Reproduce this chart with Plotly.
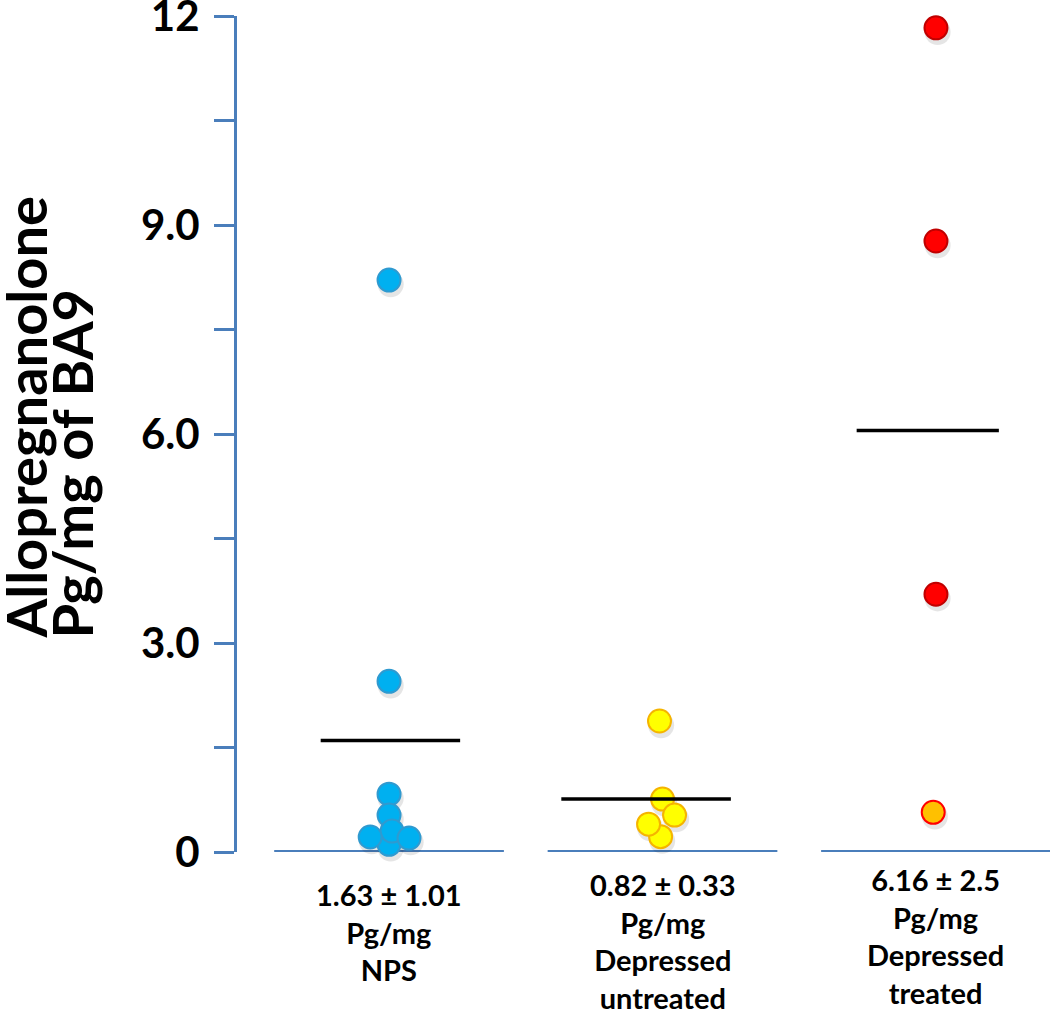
import plotly.graph_objects as go

# ---------------- data ----------------
groups = ["NPS", "Depressed untreated", "Depressed treated"]
group_labels = [
    "1.63 ± 1.01<br>Pg/mg<br>NPS",
    "0.82 ± 0.33<br>Pg/mg<br>Depressed<br>untreated",
    "6.16 ± 2.5<br>Pg/mg<br>Depressed<br>treated",
]
nps_values = [8.21, 2.45, 0.83, 0.53, 0.11, 0.30, 0.215, 0.20]
nps_jitter = [0.0, 0.0, 0.0, 0.0, 0.0, 0.011, -0.069, 0.073]
untreated_values = [1.88, 0.22, 0.76, 0.53, 0.40]
untreated_jitter = [-0.011, -0.007, 0.0, 0.044, -0.051]
treated_values = [11.83, 8.77, 3.70, 0.57]
treated_jitter = [0.0, 0.0, 0.0, -0.01]
mean_values = [1.60, 0.76, 6.05]
y_tick_values = [0, 1.5, 3, 4.5, 6, 7.5, 9, 10.5, 12]
y_tick_labels = ["0", "", "3.0", "", "6.0", "", "9.0", "", "12"]

# ---------------- style ----------------
AXIS_BLUE = "#4A7EBB"
FONT = "Lato"
mean_extent = [(-0.25, 0.26), (-0.37, 0.25), (-0.29, 0.23)]
base_half = 0.42
SHADOW_DY = 0.06   # shadow offset in axis units (~4 px)
SHADOW_DX = 0.006

fig = go.Figure()

# baselines per group
for i in range(len(groups)):
    fig.add_trace(go.Scatter(
        x=[i - base_half, i + base_half], y=[0, 0], mode="lines",
        line=dict(color=AXIS_BLUE, width=4), hoverinfo="skip", showlegend=False,
        cliponaxis=False))

all_sets = [(0, nps_values, nps_jitter), (1, untreated_values, untreated_jitter),
            (2, treated_values, treated_jitter)]

# soft drop shadows
for i, vals, jit in all_sets:
    fig.add_trace(go.Scatter(
        x=[i + j + SHADOW_DX for j in jit], y=[v - SHADOW_DY for v in vals], mode="markers",
        marker=dict(size=26, color="rgba(0,0,0,0.10)", line=dict(width=0)),
        hoverinfo="skip", showlegend=False, cliponaxis=False))

def pts(i, vals, jit, fill, edge):
    fig.add_trace(go.Scatter(
        x=[i + j for j in jit], y=vals, mode="markers",
        marker=dict(size=23, color=fill, line=dict(color=edge, width=2)),
        showlegend=False, cliponaxis=False, name=groups[i]))

pts(0, nps_values, nps_jitter, "#00B0F0", "#2F9AD0")
pts(1, untreated_values, untreated_jitter, "#FFFF00", "#F5B400")
treated_fill = ["#FF0000"] * (len(treated_values) - 1) + ["#FFC000"]
treated_edge = ["#C00000"] * (len(treated_values) - 1) + ["#FF0000"]
fig.add_trace(go.Scatter(
    x=[2 + j for j in treated_jitter], y=treated_values, mode="markers",
    marker=dict(size=23, color=treated_fill, line=dict(color=treated_edge, width=2)),
    showlegend=False, cliponaxis=False, name=groups[2]))

# mean lines
for i, m in enumerate(mean_values):
    a, b = mean_extent[i]
    fig.add_trace(go.Scatter(
        x=[i + a, i + b], y=[m, m], mode="lines",
        line=dict(color="black", width=3.5), hoverinfo="skip", showlegend=False))

# group labels
label_y = [-0.0955, -0.106, -0.1005]
for i, t in enumerate(group_labels):
    fig.add_annotation(x=i, y=label_y[i], xref="x", yref="paper", text=t,
                       showarrow=False, xanchor="center", yanchor="middle",
                       font=dict(family=FONT, size=29, color="black", weight="bold"))

# y title (two tight lines)
fig.add_annotation(x=-0.260, y=0.253, xref="paper", yref="paper",
                   text="Allopregnanolone", textangle=-90, showarrow=False,
                   xanchor="center", yanchor="bottom",
                   font=dict(family=FONT, size=56, color="black", weight="bold"))
fig.add_annotation(x=-0.203, y=0.253, xref="paper", yref="paper",
                   text="Pg/mg of BA9", textangle=-90, showarrow=False,
                   xanchor="center", yanchor="bottom",
                   font=dict(family=FONT, size=56, color="black", weight="bold"))

fig.update_layout(
    width=1050, height=1012,
    margin=dict(l=237, r=0, t=16, b=160, autoexpand=False),
    paper_bgcolor="white", plot_bgcolor="white",
    xaxis=dict(range=[-0.556, 2.417], visible=False, fixedrange=True),
    yaxis=dict(range=[0, 12], tickvals=y_tick_values, ticktext=y_tick_labels,
               showline=True, linecolor=AXIS_BLUE, linewidth=3,
               ticks="outside", ticklen=20, tickwidth=3, tickcolor=AXIS_BLUE,
               showgrid=False, zeroline=False, ticklabelstandoff=6,
               ticklabeloverflow="allow", automargin=False,
               tickfont=dict(family=FONT, size=42, color="black", weight="bold")),
)

fig.write_html("out.html", config={"displayModeBar": False},
               post_script="document.body.style.margin='0px';")
